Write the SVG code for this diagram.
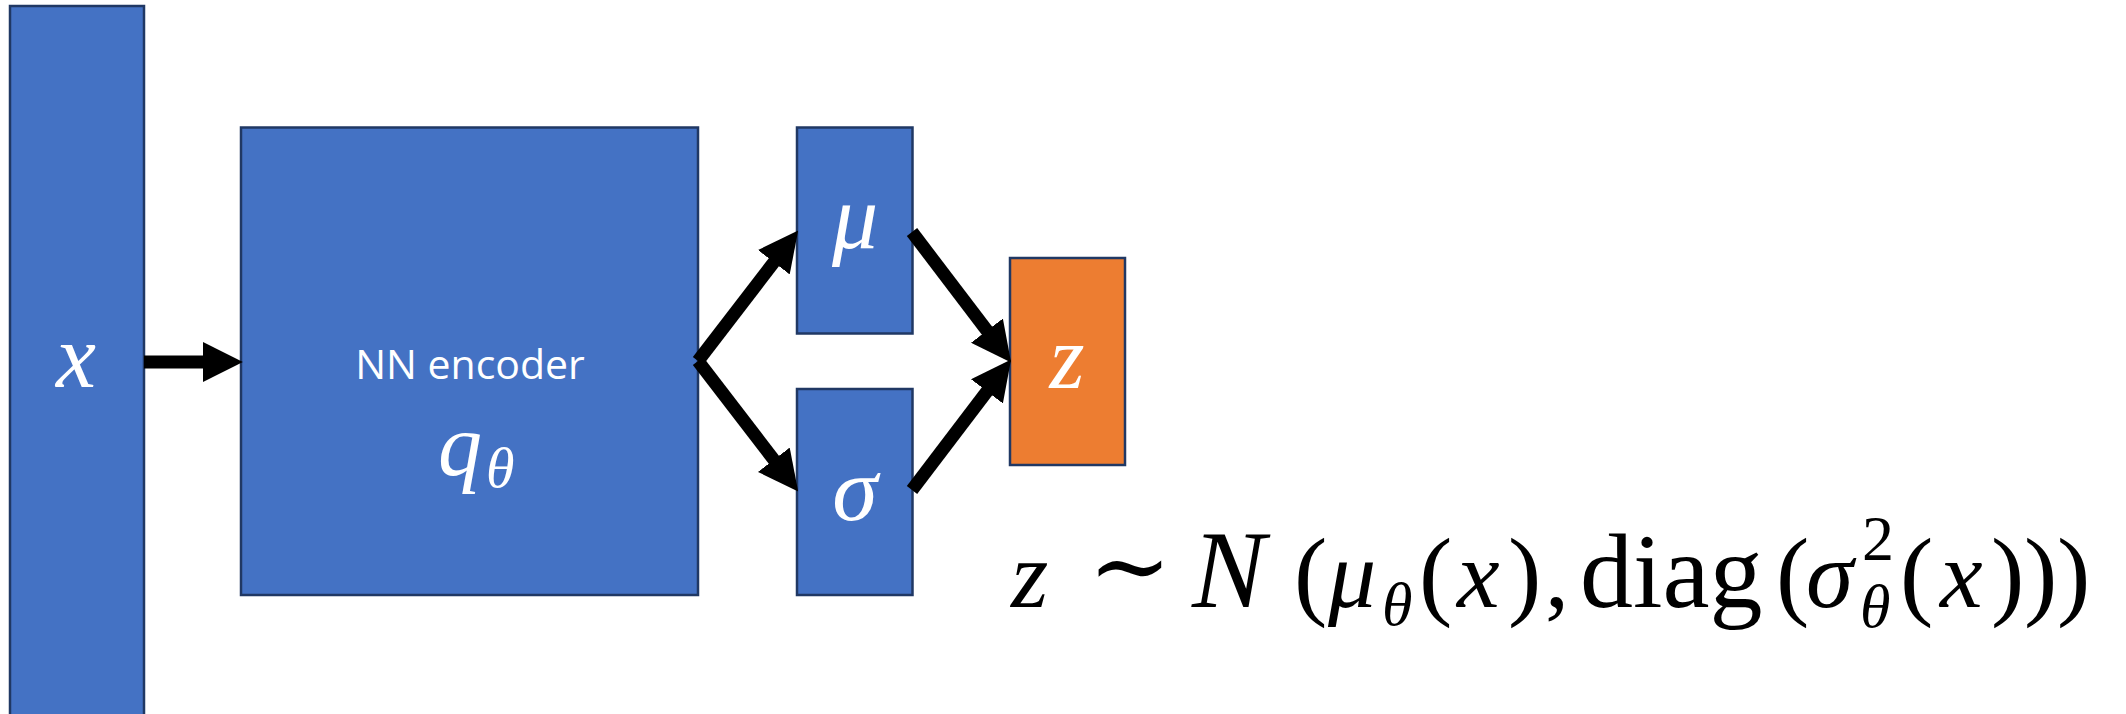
<svg xmlns="http://www.w3.org/2000/svg" width="2126" height="714" viewBox="0 0 2126 714">
  <defs>
    <marker id="ah" markerUnits="userSpaceOnUse" markerWidth="40" markerHeight="40" viewBox="0 0 38 38" refX="2" refY="19" orient="auto">
      <path d="M0,0 L38,19 L0,38 z" fill="#000"/>
    </marker>
    <style>
      .blue { fill: #4472C4; stroke: #203864; stroke-width: 2.5; }
      .orange { fill: #ED7D31; stroke: #203864; stroke-width: 2.5; }
      .math { font-family: "Liberation Serif", "DejaVu Serif", serif; font-style: italic; }
      .rm { font-family: "Liberation Serif", "DejaVu Serif", serif; font-style: normal; }
      .lbl { fill: #ffffff; }
      .conn { stroke: #000; stroke-width: 13; fill: none; stroke-linecap: butt; marker-end: url(#ah); }
    </style>
  </defs>
  <rect width="2126" height="714" fill="#ffffff"/>

  <g id="node-x">
    <rect class="blue" x="10" y="6" width="134" height="720"/>
    <text class="math lbl" x="76" y="387" font-size="90" text-anchor="middle">x</text>
  </g>

  <g id="node-encoder">
    <rect class="blue" x="241" y="127.5" width="457" height="467.5"/>
    <text class="lbl" x="470" y="379" font-family="'Open Sans', 'Liberation Sans', sans-serif" font-size="41" text-anchor="middle">NN encoder</text>
    <text class="math lbl" x="438" y="475" font-size="88">q<tspan font-size="58" x="486" y="487">θ</tspan></text>
  </g>

  <g id="node-mu">
    <rect class="blue" x="797" y="127.5" width="115.5" height="206"/>
    <text class="math lbl" x="855" y="248" font-size="92" text-anchor="middle">μ</text>
  </g>

  <g id="node-sigma">
    <rect class="blue" x="797" y="389" width="115.5" height="206"/>
    <text class="math lbl" x="855" y="520" font-size="92" text-anchor="middle">σ</text>
  </g>

  <g id="node-z">
    <rect class="orange" x="1010" y="258" width="115" height="207"/>
    <text class="math lbl" x="1067" y="388" font-size="90" text-anchor="middle">z</text>
  </g>

  <g id="connectors">
    <line class="conn" x1="144" y1="362" x2="205" y2="362"/>
    <line class="conn" x1="698" y1="361" x2="775.1" y2="260.6"/>
    <line class="conn" x1="698" y1="361" x2="775.1" y2="461.4"/>
    <line class="conn" x1="912" y1="232" x2="988.2" y2="332.3"/>
    <line class="conn" x1="912" y1="490" x2="988.2" y2="389.7"/>
  </g>

  <g id="formula" fill="#000">
    <text class="math" x="1011" y="607" font-size="96">z</text>
    <text class="rm" x="1088" y="600" font-size="100">∼</text>
    <text class="math" x="1192" y="607" font-size="110">N</text>
    <text class="rm" x="1294" y="607" font-size="100">(</text>
    <text class="math" x="1328" y="607" font-size="96">μ</text>
    <text class="math" x="1382" y="625" font-size="62">θ</text>
    <text class="rm" x="1419" y="607" font-size="100">(</text>
    <text class="math" x="1457" y="607" font-size="96">x</text>
    <text class="rm" x="1508" y="607" font-size="100">)</text>
    <text class="rm" x="1545" y="607" font-size="96">,</text>
    <text class="rm" x="1580" y="607" font-size="106">diag</text>
    <text class="rm" x="1776" y="607" font-size="100">(</text>
    <text class="math" x="1806" y="607" font-size="96">σ</text>
    <text class="rm" x="1862" y="560" font-size="64">2</text>
    <text class="math" x="1860" y="627" font-size="62">θ</text>
    <text class="rm" x="1900" y="607" font-size="100">(</text>
    <text class="math" x="1940" y="607" font-size="96">x</text>
    <text class="rm" x="1991" y="607" font-size="100">)</text>
    <text class="rm" x="2024" y="607" font-size="100">)</text>
    <text class="rm" x="2057" y="607" font-size="100">)</text>
  </g>
</svg>
